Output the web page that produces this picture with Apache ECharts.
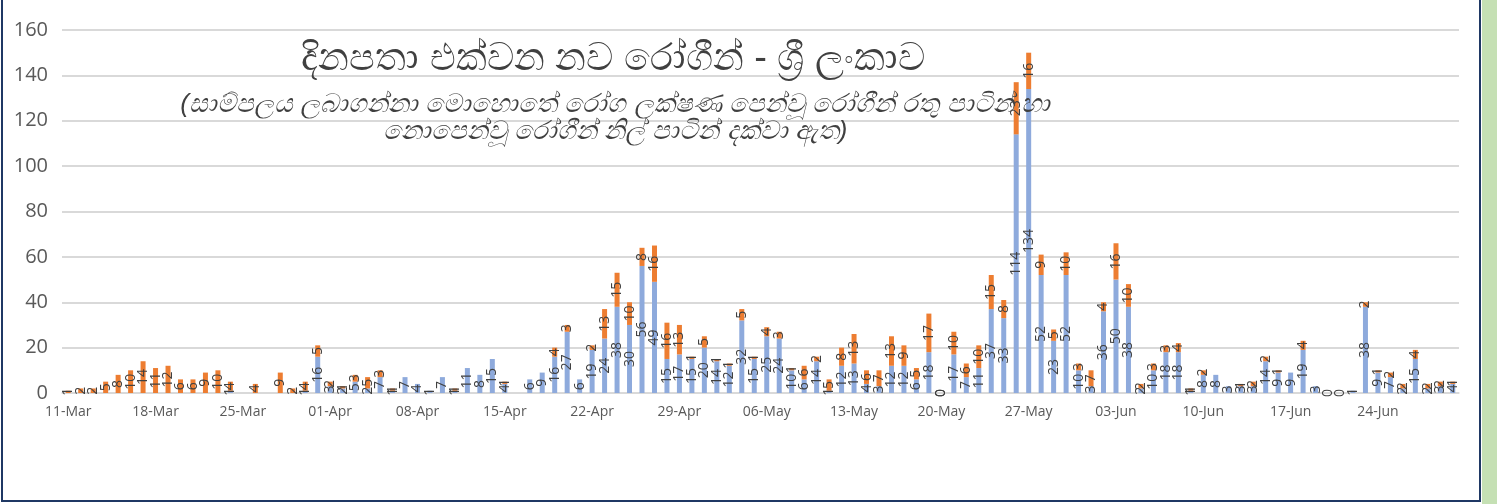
<!DOCTYPE html>
<html>
<head>
<meta charset="utf-8">
<script src="https://cdn.jsdelivr.net/npm/echarts@6/dist/echarts.min.js"></script>
<style>
body{margin:0;background:#fff;width:1497px;height:504px;overflow:hidden;position:relative}
#frame{position:absolute;left:1px;top:-3px;width:1476px;height:501px;border:2px solid #1f3864}
#green{position:absolute;left:1482px;top:0;width:15px;height:504px;background:#c5e0b4}
#chart{position:absolute;left:0;top:0;width:1480px;height:502px}
</style>
</head>
<body>
<div id="frame"></div>
<div id="green"></div>
<div id="chart"></div>
<script>
// daily new cases, 11-Mar .. 30-Jun
var startDay = new Date(2020, 2, 11)
var dayCount = 112
var months = ['Jan','Feb','Mar','Apr','May','Jun','Jul']

// blue: no symptoms when sampled
var noSymptoms = [
  null,null,null,null,null,null,null,null,null,null,null,null,null,1,
  null,null,null,null,null,1,16,3,2,5,2,7,1,7,4,1,7,1,11,8,15,4,null,
  6,9,16,27,6,19,24,38,30,56,49,15,17,15,20,14,12,32,15,25,24,10,6,14,1,
  12,13,4,3,12,12,6,18,0,17,7,11,37,33,114,134,52,23,52,10,3,36,50,38,
  2,10,18,18,1,8,8,3,3,3,14,9,9,19,3,0,0,1,38,9,7,2,15,2,3,4
]
// orange: symptoms when sampled
var withSymptoms = [
  1,2,2,5,8,10,14,11,12,6,6,9,10,4,
  null,4,null,9,2,4,5,2,1,3,5,3,1,null,null,null,null,1,null,null,null,1,null,
  null,null,4,3,null,2,13,15,10,8,16,16,13,1,5,1,1,5,1,4,3,1,6,2,5,
  8,13,6,7,13,9,5,17,0,10,6,10,15,8,23,16,9,5,10,3,7,4,16,10,
  2,3,3,4,1,2,null,null,1,2,2,1,null,4,null,null,null,null,2,1,2,2,4,2,2,1
]

var categories = []
for (var i = 0; i < dayCount; i++) {
  var d = new Date(startDay.getTime())
  d.setDate(startDay.getDate() + i)
  var dd = d.getDate() < 10 ? '0' + d.getDate() : '' + d.getDate()
  categories.push(dd + '-' + months[d.getMonth()])
}

var titleText = 'දිනපතා එක්වන නව රෝගීන් - ශ්‍රී ලංකාව'
var subLine1 = '(සාම්පලය ලබාගන්නා මොහොතේ රෝග ලක්ෂණ පෙන්වූ රෝගීන් රතු පාටින් හා'
var subLine2 = 'නොපෙන්වූ රෝගීන් නිල් පාටින් දක්වා ඇත)'

var barLabel = {
  show: true,
  position: 'inside',
  rotate: 90,
  fontSize: 14,
  color: '#404040',
  fontFamily: 'Open Sans'
}

var chartDom = document.getElementById('chart')
var myChart = echarts.init(chartDom)
var option = {
  animation: false,
  title: [
    {
      text: titleText,
      left: 608, top: 36, textAlign: 'center',
      textStyle: {fontSize: 38, fontWeight: 'normal', color: '#404040'}
    },
    {
      text: subLine1 + '\n' + subLine2,
      left: 610, top: 86, textAlign: 'center',
      textStyle: {fontSize: 26, fontWeight: 'normal', fontStyle: 'italic', color: '#404040', lineHeight: 27}
    }
  ],
  grid: {left: 62, right: 21, top: 30, bottom: 109},
  xAxis: {
    type: 'category',
    data: categories,
    boundaryGap: true,
    axisLine: {lineStyle: {color: '#d9d9d9', width: 1.5}},
    axisTick: {interval: 6, length: 6, lineStyle: {color: '#d9d9d9', width: 1.5}},
    axisLabel: {interval: 6, fontSize: 14, color: '#595959', margin: 12, fontFamily: 'Open Sans'}
  },
  yAxis: {
    type: 'value',
    min: 0, max: 160, interval: 20,
    axisLine: {show: false},
    axisTick: {show: false},
    axisLabel: {fontSize: 20, color: '#595959', margin: 14, fontFamily: 'Open Sans'},
    splitLine: {lineStyle: {color: '#d9d9d9', width: 2}}
  },
  series: [
    {
      name: 'no symptoms',
      type: 'bar',
      stack: 'cases',
      barWidth: 5,
      data: noSymptoms,
      itemStyle: {color: '#8eaadc'},
      label: barLabel
    },
    {
      name: 'symptoms',
      type: 'bar',
      stack: 'cases',
      barWidth: 5,
      data: withSymptoms,
      itemStyle: {color: '#ed7d31'},
      label: barLabel
    }
  ]
}
option && myChart.setOption(option)
</script>
</body>
</html>
